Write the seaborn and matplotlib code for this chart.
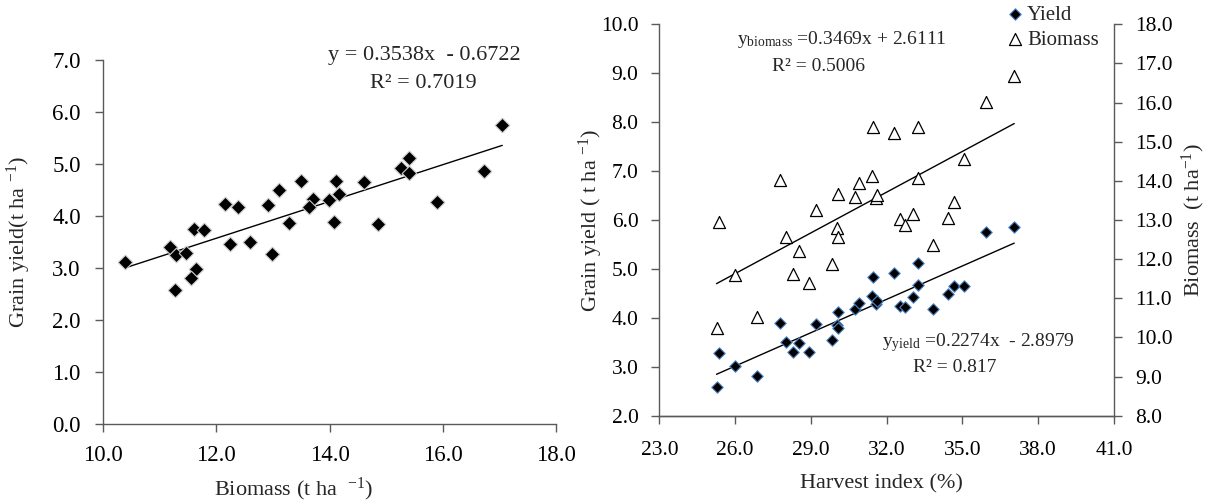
import matplotlib
matplotlib.use("Agg")
import matplotlib.pyplot as plt
import matplotlib.ticker as mticker
import numpy as np
import pandas as pd
import seaborn as sns

# ---- Panel (a): grain yield versus biomass ----
biomass_a = [10.39, 11.19, 11.29, 11.46, 11.27, 11.61, 11.78, 11.64, 11.55, 12.16,
             12.39, 12.25, 12.60, 12.92, 13.10, 12.98, 13.29, 13.50, 13.70, 13.64,
             13.99, 14.11, 14.16, 14.07, 14.60, 14.86, 15.27, 15.41, 15.41, 15.89,
             16.73, 17.05]
yield_a = [3.11, 3.41, 3.26, 3.29, 2.58, 3.76, 3.73, 2.99, 2.80, 4.23,
           4.18, 3.47, 3.51, 4.22, 4.50, 3.28, 3.86, 4.67, 4.32, 4.18,
           4.31, 4.68, 4.42, 3.89, 4.66, 3.85, 4.92, 5.11, 4.82, 4.28,
           4.87, 5.75]
fit_a = (0.3538, -0.6722)
r2_a = 0.7019

# ---- Panel (b): grain yield and biomass versus harvest index ----
harvest_index = [25.26, 25.37, 25.99, 26.85, 27.77, 28.02, 28.30, 28.54, 28.92, 29.20,
                 29.84, 30.02, 30.06, 30.06, 30.74, 30.90, 31.43, 31.45, 31.56, 31.63,
                 32.27, 32.52, 32.74, 33.05, 33.22, 33.25, 33.84, 34.42, 34.68, 35.06,
                 35.92, 37.05]
yield_b = [2.58, 3.29, 3.02, 2.81, 3.89, 3.51, 3.30, 3.48, 3.31, 3.88,
           3.55, 3.85, 3.79, 4.11, 4.18, 4.31, 4.45, 4.83, 4.28, 4.34,
           4.91, 4.25, 4.22, 4.42, 4.68, 5.12, 4.18, 4.49, 4.66, 4.66,
           5.75, 5.86]
biomass_b = [10.23, 12.96, 11.59, 10.52, 14.03, 12.56, 11.62, 12.21, 11.40, 13.26,
             11.87, 12.80, 12.56, 13.66, 13.59, 13.95, 14.12, 15.38, 13.55, 13.65,
             15.23, 13.02, 12.87, 13.15, 14.07, 15.38, 12.35, 13.06, 13.47, 14.56,
             16.02, 16.68]
fit_yield = (0.2274, -2.8979)
r2_yield = 0.817
fit_biomass = (0.3469, 2.6111)
r2_biomass = 0.5006

sns.set_theme(style="ticks")
plt.rcParams["font.family"] = ["Liberation Serif", "DejaVu Serif"]
plt.rcParams["mathtext.fontset"] = "custom"
plt.rcParams["mathtext.rm"] = "Liberation Serif"
plt.rcParams["mathtext.it"] = "Liberation Serif:italic"

AXIS_GREY = "#5a5a5a"
LABEL_FS = 16

df_a = pd.DataFrame({"biomass": biomass_a, "grain_yield": yield_a})
df_b = pd.DataFrame({"hi": harvest_index, "grain_yield": yield_b, "biomass": biomass_b})

fig = plt.figure(figsize=(12.12, 5.04), dpi=100)


def style_axis(ax, sides, pad_x, pad_y, size):
    for side in ["top", "right", "left", "bottom"]:
        ax.spines[side].set_visible(side in sides)
        ax.spines[side].set_color(AXIS_GREY)
        ax.spines[side].set_linewidth(1.0)
    ax.tick_params(axis="x", direction="out", length=6, width=1.0, color=AXIS_GREY,
                   labelsize=size, pad=pad_x, labelcolor="black")
    ax.tick_params(axis="y", direction="out", length=6, width=1.0, color=AXIS_GREY,
                   labelsize=size, pad=pad_y, labelcolor="black")


def trend(ax, x, coef):
    xs = np.array([min(x), max(x)])
    sns.lineplot(x=xs, y=coef[0] * xs + coef[1], ax=ax, color="black",
                 linewidth=1.0, legend=False)


# ---- left panel ----
ax1 = fig.add_axes([0.085, 0.1587, 0.3738, 0.722])
sns.scatterplot(data=df_a, x="biomass", y="grain_yield", ax=ax1, marker="D",
                s=55, color="black", edgecolor="#c8c8c8", linewidth=0.8, zorder=3)
trend(ax1, biomass_a, fit_a)
ax1.set_xlim(10, 18)
ax1.set_ylim(0, 7)
ax1.xaxis.set_major_locator(mticker.MultipleLocator(2))
ax1.yaxis.set_major_locator(mticker.MultipleLocator(1))
ax1.xaxis.set_major_formatter(mticker.FormatStrFormatter("%.1f"))
ax1.yaxis.set_major_formatter(mticker.FormatStrFormatter("%.1f"))
style_axis(ax1, ["left", "bottom"], pad_x=9, pad_y=10, size=16.5)
ax1.set_xlabel(r"Biomass (t ha  $^{-1}$)", fontsize=LABEL_FS)
ax1.set_ylabel(r"Grain yield(t ha $^{-1}$)", fontsize=LABEL_FS)
ax1.xaxis.set_label_coords(0.42, -0.143)
ax1.yaxis.set_label_coords(-0.155, 0.5)
ax1.text(0.71, 1.0137, f"y = {fit_a[0]:.4f}x  - {abs(fit_a[1]):.4f}",
         transform=ax1.transAxes, ha="center", va="center", fontsize=16)
ax1.text(0.706, 0.937, f"R\u00b2 = {r2_a:.4f}", transform=ax1.transAxes,
         ha="center", va="center", fontsize=16)

# ---- right panel ----
ax2 = fig.add_axes([0.5441, 0.1752, 0.375, 0.7766])
ax3 = ax2.twinx()
sns.scatterplot(data=df_b, x="hi", y="grain_yield", ax=ax2, marker="D", s=34,
                color="black", edgecolor="#4f86c6", linewidth=0.8, zorder=3,
                label="Yield", legend=False)
sns.scatterplot(data=df_b, x="hi", y="biomass", ax=ax3, marker="^", s=75,
                facecolor="white", edgecolor="black", linewidth=0.9, zorder=3,
                label="Biomass", legend=False)
trend(ax2, harvest_index, fit_yield)
trend(ax3, harvest_index, fit_biomass)
ax2.set_xlim(23, 41)
ax2.set_ylim(2, 10)
ax3.set_ylim(8, 18)
ax2.xaxis.set_major_locator(mticker.FixedLocator(np.arange(23, 42, 3)))
ax2.yaxis.set_major_locator(mticker.MultipleLocator(1))
ax3.yaxis.set_major_locator(mticker.MultipleLocator(1))
for a in (ax2.xaxis, ax2.yaxis, ax3.yaxis):
    a.set_major_formatter(mticker.FormatStrFormatter("%.1f"))
style_axis(ax2, ["left", "bottom"], pad_x=12, pad_y=9, size=15.5)
style_axis(ax3, ["right", "bottom"], pad_x=12, pad_y=9, size=15.5)
ax2.set_xlabel("Harvest index (%)", fontsize=LABEL_FS)
ax2.set_ylabel(r"Grain yield ( t ha $^{-1}$)", fontsize=LABEL_FS)
ax3.set_ylabel(r"Biomass  (t ha$^{-1}$)", fontsize=LABEL_FS)
ax2.xaxis.set_label_coords(0.489, -0.15)
ax2.yaxis.set_label_coords(-0.12, 0.5)
ax3.yaxis.set_label_coords(1.145, 0.5)

ax2.text(0.17, 0.96, r"$\mathrm{y_{biomass}}$ =" + f"{fit_biomass[0]:.4f}x + {fit_biomass[1]:.4f}",
         transform=ax2.transAxes, ha="left", va="center", fontsize=14)
ax2.text(0.35, 0.893, f"R\u00b2 = {r2_biomass:.4f}", transform=ax2.transAxes,
         ha="center", va="center", fontsize=14)
ax2.text(0.49, 0.188, r"$\mathrm{y_{yield}}$ =" + f"{fit_yield[0]:.4f}x  - {abs(fit_yield[1]):.4f}",
         transform=ax2.transAxes, ha="left", va="center", fontsize=14)
ax2.text(0.65, 0.124, f"R\u00b2 = {r2_yield:.3f}", transform=ax2.transAxes,
         ha="center", va="center", fontsize=14)

handles = ax2.collections[:1] + ax3.collections[:1]
fig.legend(handles, ["Yield", "Biomass"], loc="upper left",
           bbox_to_anchor=(1000 / 1212, 0.998), frameon=False, fontsize=15,
           handletextpad=0.1, labelspacing=0.25, borderaxespad=0, handlelength=1.0,
           borderpad=0.2)

fig.savefig("out.png", dpi=100)
